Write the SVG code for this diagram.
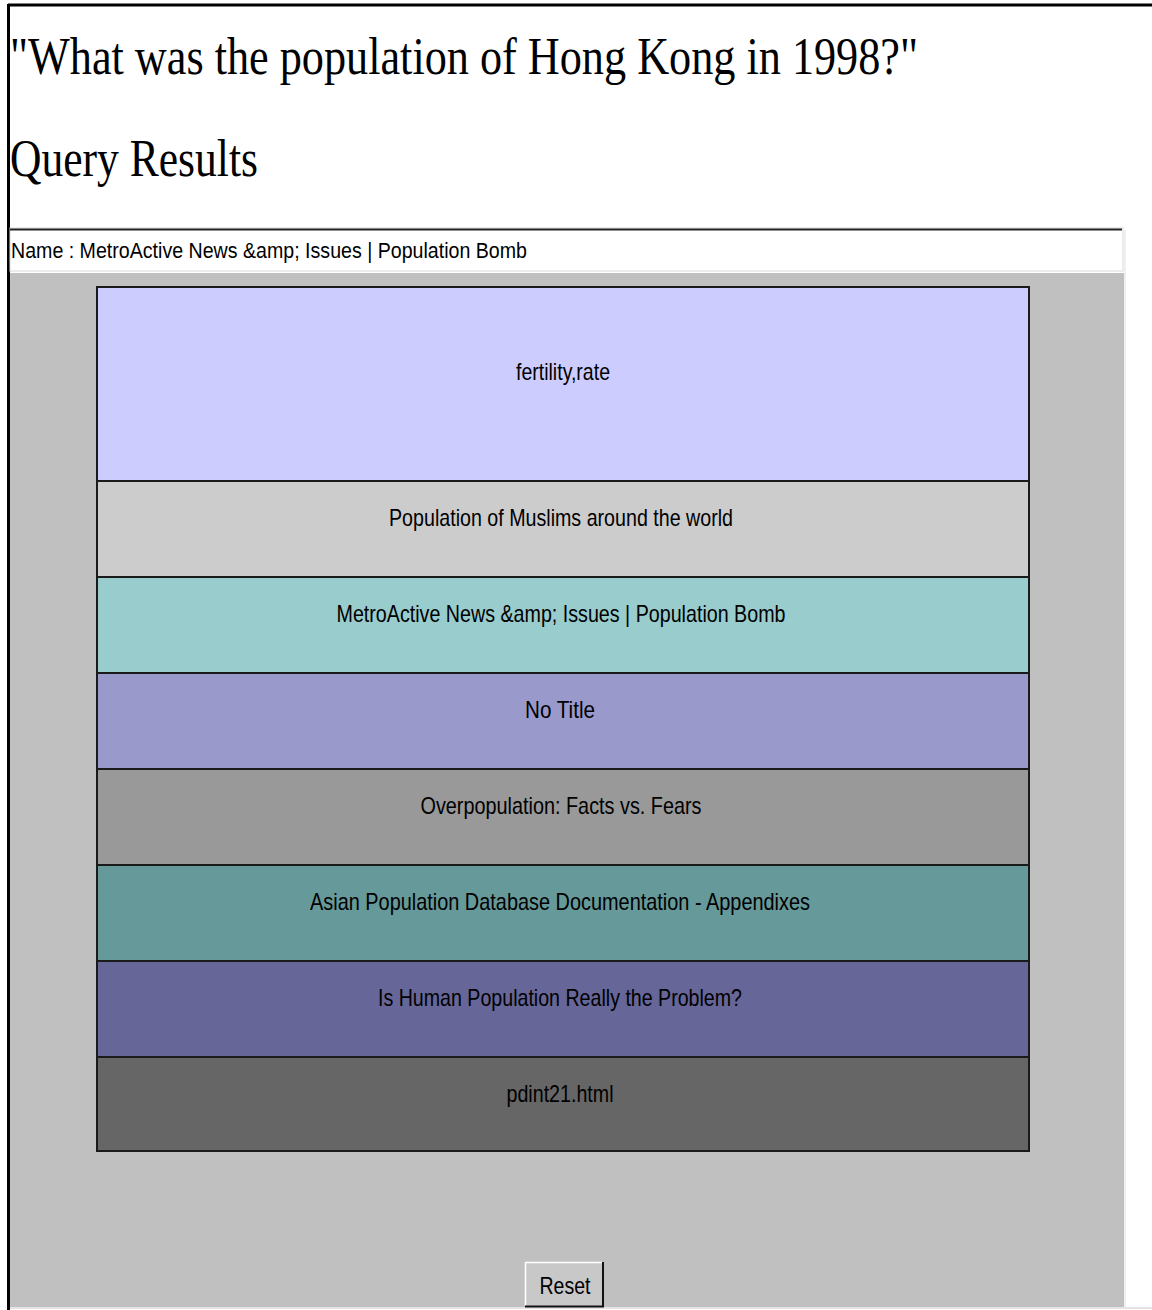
<svg xmlns="http://www.w3.org/2000/svg" width="1152" height="1310" viewBox="0 0 1152 1310">
<style>
.title{font-family:"Liberation Serif","Times New Roman",serif;fill:#000}
.lbl{font-family:"Liberation Sans",Arial,sans-serif;font-size:24px;fill:#000;text-anchor:middle}
.row{stroke:#1a1a1a;stroke-width:2}
</style>
<rect x="0" y="0" width="1152" height="1310" fill="#ffffff"/>
<!-- frame -->
<line x1="8" y1="5" x2="1152" y2="5" stroke="#000" stroke-width="3"/>
<line x1="8.5" y1="4" x2="8.5" y2="1310" stroke="#000" stroke-width="3"/>
<text class="title" x="10" y="74" font-size="52" textLength="908" lengthAdjust="spacingAndGlyphs">"What was the population of Hong Kong in 1998?"</text>
<text class="title" x="10" y="176" font-size="52" textLength="248" lengthAdjust="spacingAndGlyphs">Query Results</text>
<!-- name field -->
<g id="namefield">
<rect x="10" y="228" width="1113" height="43" fill="#fff" stroke="#d8d8d8" stroke-width="1"/>
<line x1="10" y1="229.5" x2="1122" y2="229.5" stroke="#222" stroke-width="2"/>
<text x="11" y="258" font-family="Liberation Sans,Arial,sans-serif" font-size="22" textLength="516" lengthAdjust="spacingAndGlyphs">Name : MetroActive News &amp;amp; Issues | Population Bomb</text>
</g>
<!-- panel -->
<rect x="10" y="273" width="1114" height="1034" fill="#c0c0c0"/>
<line x1="10" y1="1308" x2="1152" y2="1308" stroke="#e4e4e4" stroke-width="2"/>
<line x1="1125" y1="230" x2="1125" y2="1307" stroke="#e0e0e0" stroke-width="1"/>
<g id="rows">
<g id="r1"><rect class="row" x="97" y="287" width="932" height="194" fill="#ccccff"/><text class="lbl" x="563" y="380" textLength="94" lengthAdjust="spacingAndGlyphs">fertility,rate</text></g>
<g id="r2"><rect class="row" x="97" y="481" width="932" height="96" fill="#cccccc"/><text class="lbl" x="561" y="526" textLength="344" lengthAdjust="spacingAndGlyphs">Population of Muslims around the world</text></g>
<g id="r3"><rect class="row" x="97" y="577" width="932" height="96" fill="#99cccc"/><text class="lbl" x="561" y="622" textLength="449" lengthAdjust="spacingAndGlyphs">MetroActive News &amp;amp; Issues | Population Bomb</text></g>
<g id="r4"><rect class="row" x="97" y="673" width="932" height="96" fill="#9999cc"/><text class="lbl" x="560" y="718" textLength="70" lengthAdjust="spacingAndGlyphs">No Title</text></g>
<g id="r5"><rect class="row" x="97" y="769" width="932" height="96" fill="#999999"/><text class="lbl" x="561" y="814" textLength="281" lengthAdjust="spacingAndGlyphs">Overpopulation: Facts vs. Fears</text></g>
<g id="r6"><rect class="row" x="97" y="865" width="932" height="96" fill="#669999"/><text class="lbl" x="560" y="910" textLength="500" lengthAdjust="spacingAndGlyphs">Asian Population Database Documentation - Appendixes</text></g>
<g id="r7"><rect class="row" x="97" y="961" width="932" height="96" fill="#666699"/><text class="lbl" x="560" y="1006" textLength="364" lengthAdjust="spacingAndGlyphs">Is Human Population Really the Problem?</text></g>
<g id="r8"><rect class="row" x="97" y="1057" width="932" height="94" fill="#666666"/><text class="lbl" x="560" y="1102" textLength="107" lengthAdjust="spacingAndGlyphs">pdint21.html</text></g>
</g>
<g id="reset">
<rect x="525" y="1262" width="78" height="45" fill="#c8c8c8"/>
<path d="M525.5 1306 V1262.5 H602" fill="none" stroke="#fff" stroke-width="1.5"/>
<path d="M525 1306.5 H603 V1262" fill="none" stroke="#111" stroke-width="2"/>
<text x="565" y="1294" font-family="Liberation Sans,Arial,sans-serif" font-size="23" text-anchor="middle" textLength="51" lengthAdjust="spacingAndGlyphs">Reset</text>
</g>
</svg>
